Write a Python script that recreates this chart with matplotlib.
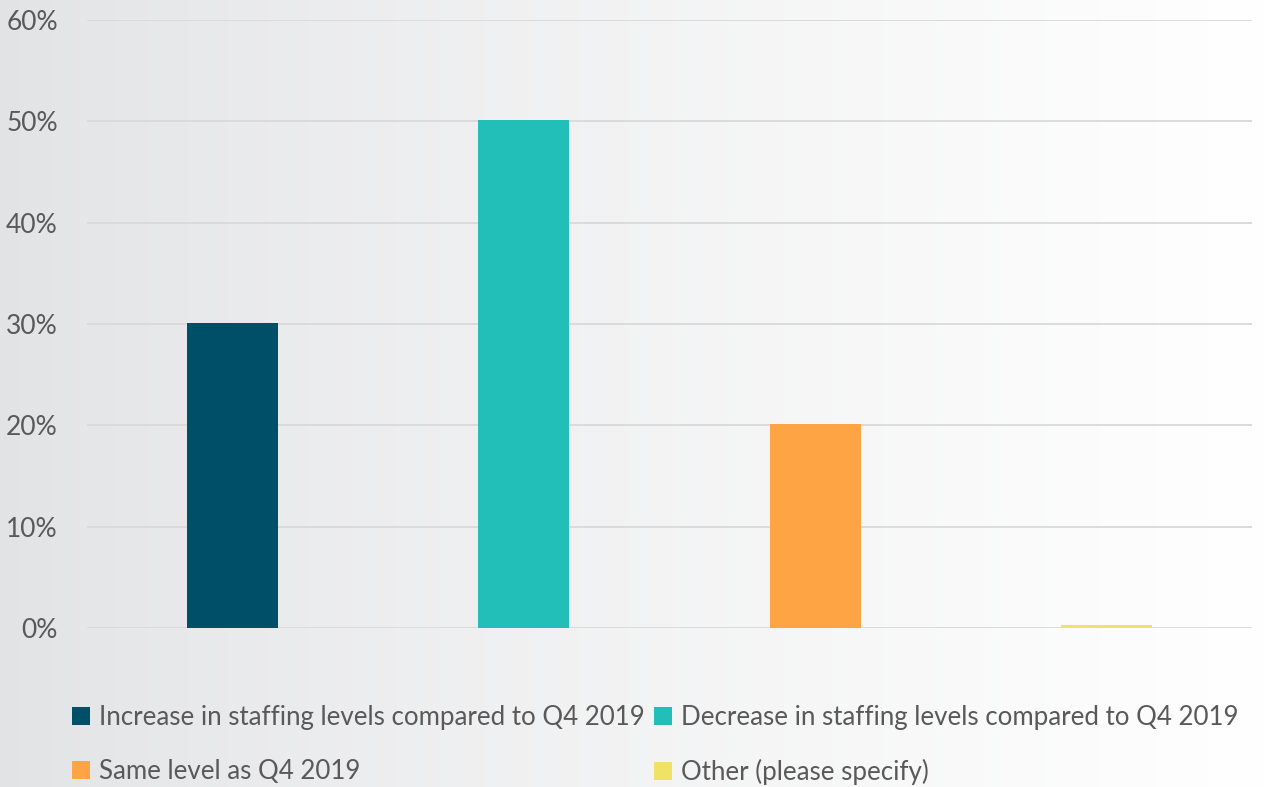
import matplotlib.pyplot as plt
import numpy as np
from matplotlib.ticker import PercentFormatter

categories = [
    "Increase in staffing levels compared to Q4 2019",
    "Decrease in staffing levels compared to Q4 2019",
    "Same level as Q4 2019",
    "Other (please specify)",
]
shares = [30.1, 50.1, 20.1, 0.25]
colors = ["#004F69", "#21BFB8", "#FFA445", "#F0E266"]
ticks = [0, 10, 20, 30, 40, 50, 60]

plt.rcParams['font.family'] = ['Lato', 'DejaVu Sans']
text_color = "#595959"

fig = plt.figure(figsize=(12.69, 7.87), dpi=100)

# soft grey-to-white backdrop behind everything
bg = fig.add_axes([0, 0, 1, 1], zorder=-10)
grad = np.linspace(0, 1, 256) ** 0.8
left = np.array([226, 227, 229]) / 255.0
right = np.array([255, 255, 255]) / 255.0
img = left[None, :] * (1 - grad[:, None]) + right[None, :] * grad[:, None]
bg.imshow(img[None, :, :], aspect='auto', extent=[0, 1, 0, 1])
bg.axis('off')

ax = fig.add_axes([87 / 1269, 1 - 628 / 787, (1252 - 87) / 1269, (628 - 20) / 787])
ax.patch.set_alpha(0)

x = np.arange(len(categories))
bars = []
for i in range(len(categories)):
    b = ax.bar(x[i], shares[i], width=0.3125, color=colors[i], label=categories[i], zorder=3)
    bars.append(b)

ax.set_xlim(-0.5, 3.5)
ax.set_ylim(0, 60)
ax.set_yticks(ticks)
ax.yaxis.set_major_formatter(PercentFormatter(decimals=0))
ax.set_xticks([])
ax.grid(axis='y', color='#D9D9D9', linewidth=1.3, zorder=0)
ax.tick_params(axis='y', length=0, pad=21, labelsize=19, labelcolor=text_color)
for s in ax.spines.values():
    s.set_visible(False)

# legend fills column by column, so reorder to read across rows
order = [0, 2, 1, 3]
leg = ax.legend([bars[i] for i in order], [categories[i] for i in order],
                loc='upper left', bbox_to_anchor=(-0.022, -0.11), ncol=2, frameon=False,
                fontsize=18.6, labelcolor=text_color, handlelength=0.7, handleheight=0.7,
                handletextpad=0.35, columnspacing=0.35, labelspacing=1.1,
                borderaxespad=0)

fig.savefig("out.png", dpi=100)
